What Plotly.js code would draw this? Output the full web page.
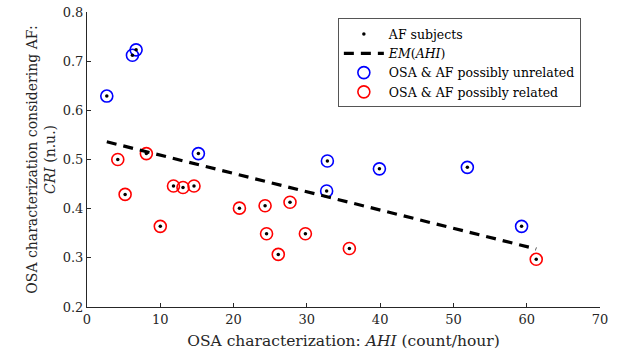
<!DOCTYPE html>
<html>
<head>
<meta charset="utf-8">
<script src="https://cdn.plot.ly/plotly-3.0.1.min.js"></script>
<style>html,body{margin:0;padding:0;background:#fff;}#chart{width:620px;height:356px;}</style>
</head>
<body>
<div id="chart"></div>
<script>
// Data
const unrelatedAHI = [2.7, 6.2, 6.7, 15.2, 32.7, 32.8, 39.9, 51.9, 59.3];
const unrelatedCRI = [0.629, 0.712, 0.723, 0.512, 0.436, 0.497, 0.481, 0.484, 0.364];
const relatedAHI = [4.2, 5.2, 8.1, 10.0, 11.8, 13.1, 14.6, 20.8, 24.3, 24.5, 26.1, 27.7, 29.8, 35.8, 61.3];
const relatedCRI = [0.500, 0.429, 0.512, 0.364, 0.446, 0.443, 0.446, 0.401, 0.406, 0.349, 0.307, 0.413, 0.349, 0.319, 0.297];
const emAHI = [2.7, 61.3];
const emCRI = [0.536, 0.318];

const serif = "'DejaVu Serif', 'Liberation Serif', serif";
const allAHI = unrelatedAHI.concat(relatedAHI);
const allCRI = unrelatedCRI.concat(relatedCRI);

const traces = [
  {x: unrelatedAHI, y: unrelatedCRI, type: 'scatter', mode: 'markers', name: 'OSA &amp; AF possibly unrelated',
   marker: {symbol: 'circle-open', size: 12, color: '#0000ff', line: {width: 1.6}}, legendrank: 3},
  {x: relatedAHI, y: relatedCRI, type: 'scatter', mode: 'markers', name: 'OSA &amp; AF possibly related',
   marker: {symbol: 'circle-open', size: 12, color: '#ff0000', line: {width: 1.6}}, legendrank: 4},
  {x: emAHI, y: emCRI, type: 'scatter', mode: 'lines', name: '<i>EM</i>(<i>AHI</i>)',
   line: {color: '#000', width: 3.2, dash: '10px,7px'}, legendrank: 2},
  {x: allAHI, y: allCRI, type: 'scatter', mode: 'markers', name: 'AF subjects',
   marker: {symbol: 'circle', size: 3.5, color: '#000'}, legendrank: 1}
];

const layout = {
  width: 620, height: 356,
  margin: {l: 87, r: 20, t: 12, b: 49},
  paper_bgcolor: '#fff', plot_bgcolor: '#fff',
  font: {family: serif, size: 13, color: '#262626'},
  showlegend: true,
  legend: {x: 0.489, y: 0.978, xanchor: 'left', yanchor: 'top', bgcolor: '#fff',
    bordercolor: '#555', borderwidth: 1, font: {family: serif, size: 12.5, color: '#000'},
    tracegroupgap: 0, itemwidth: 40},
  xaxis: {range: [0, 70], tickvals: [0,10,20,30,40,50,60,70], showgrid: false, zeroline: false,
    showline: true, linecolor: '#262626', linewidth: 1, ticks: 'inside', ticklen: 4, tickcolor: '#262626',
    tickfont: {family: serif, size: 13, color: '#262626'},
    title: {text: 'OSA characterization: <i>AHI</i> (count/hour)', font: {family: serif, size: 15.5, color: '#262626'}, standoff: 9}},
  yaxis: {range: [0.2, 0.8], tickvals: [0.2,0.3,0.4,0.5,0.6,0.7,0.8], showgrid: false, zeroline: false,
    showline: true, linecolor: '#262626', linewidth: 1, ticks: 'inside', ticklen: 4, tickcolor: '#262626',
    tickfont: {family: serif, size: 13, color: '#262626'},
    title: {text: 'OSA characterization considering AF:<br><i>CRI</i> (n.u.)', font: {family: serif, size: 14, color: '#262626'}, standoff: 3}}
};

Plotly.newPlot('chart', traces, layout, {staticPlot: true, displayModeBar: false});
</script>
</body>
</html>
